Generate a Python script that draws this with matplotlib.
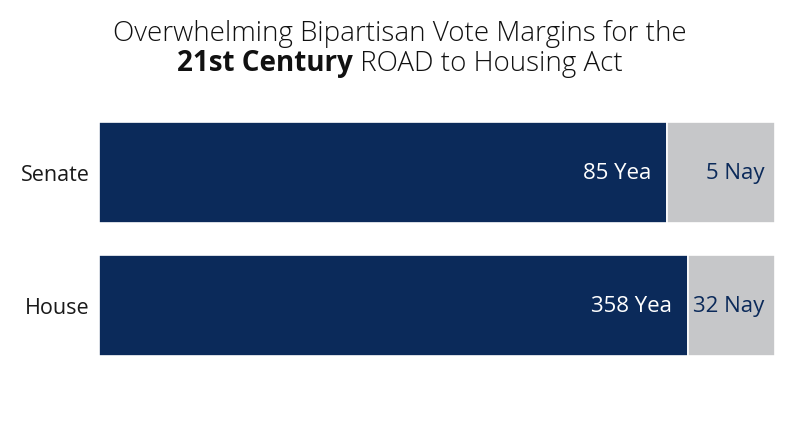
import matplotlib
matplotlib.use("Agg")
import matplotlib.pyplot as plt

chambers = ["Senate", "House"]
yea_votes = [85, 358]
nay_votes = [5, 32]
# bar widths as drawn in the reference (share of the full bar, %)
yea_share = [84.0, 87.1]
nay_share = [16.0, 12.9]

navy = "#0b2a5a"
grey = "#c6c7c9"
font = "Open Sans"

fig = plt.figure(figsize=(8, 4.47), dpi=100)
ax = fig.add_axes([99 / 800, 1 - 356 / 447, 676 / 800, 234 / 447])

h = 0.76
ys = range(len(chambers))
ax.barh(ys, yea_share, height=h, color=navy, edgecolor="white", linewidth=1.2)
ax.barh(ys, nay_share, left=yea_share, height=h, color=grey, edgecolor="white", linewidth=1.2)
ax.set_xlim(0, 100)
ax.set_ylim(1 + h / 2, -h / 2)
ax.axis("off")

for i, name in enumerate(chambers):
    ax.text(-1.4, i + 0.02, name, ha="right", va="center", fontsize=15.5, family=font, color="#1a1a1a")
    ax.text(yea_share[i] - 2.3, i + 0.01, f"{yea_votes[i]} Yea", ha="right", va="center",
            fontsize=16, family=font, color="white")
    ax.text(100 - 1.6, i + 0.01, f"{nay_votes[i]} Nay", ha="right", va="center",
            fontsize=16, family=font, color=navy)

fig.text(0.5, 1 - 34 / 447, "Overwhelming Bipartisan Vote Margins for the", ha="center", va="center",
         fontsize=20, family=font, weight="light", color="#111111")

# second title line: bold part + regular part, centred together
r = fig.canvas.get_renderer()
t1 = fig.text(0, 1 - 64 / 447, "21st Century", ha="left", va="center", fontsize=20,
              family=font, weight="bold", color="#111111")
t2 = fig.text(0, 1 - 64 / 447, " ROAD to Housing Act", ha="left", va="center", fontsize=20,
              family=font, weight="light", color="#111111")
w1 = t1.get_window_extent(r).width / fig.bbox.width
w2 = t2.get_window_extent(r).width / fig.bbox.width
x0 = 0.5 - (w1 + w2) / 2
t1.set_x(x0)
t2.set_x(x0 + w1)

fig.savefig("out.png", dpi=100)
